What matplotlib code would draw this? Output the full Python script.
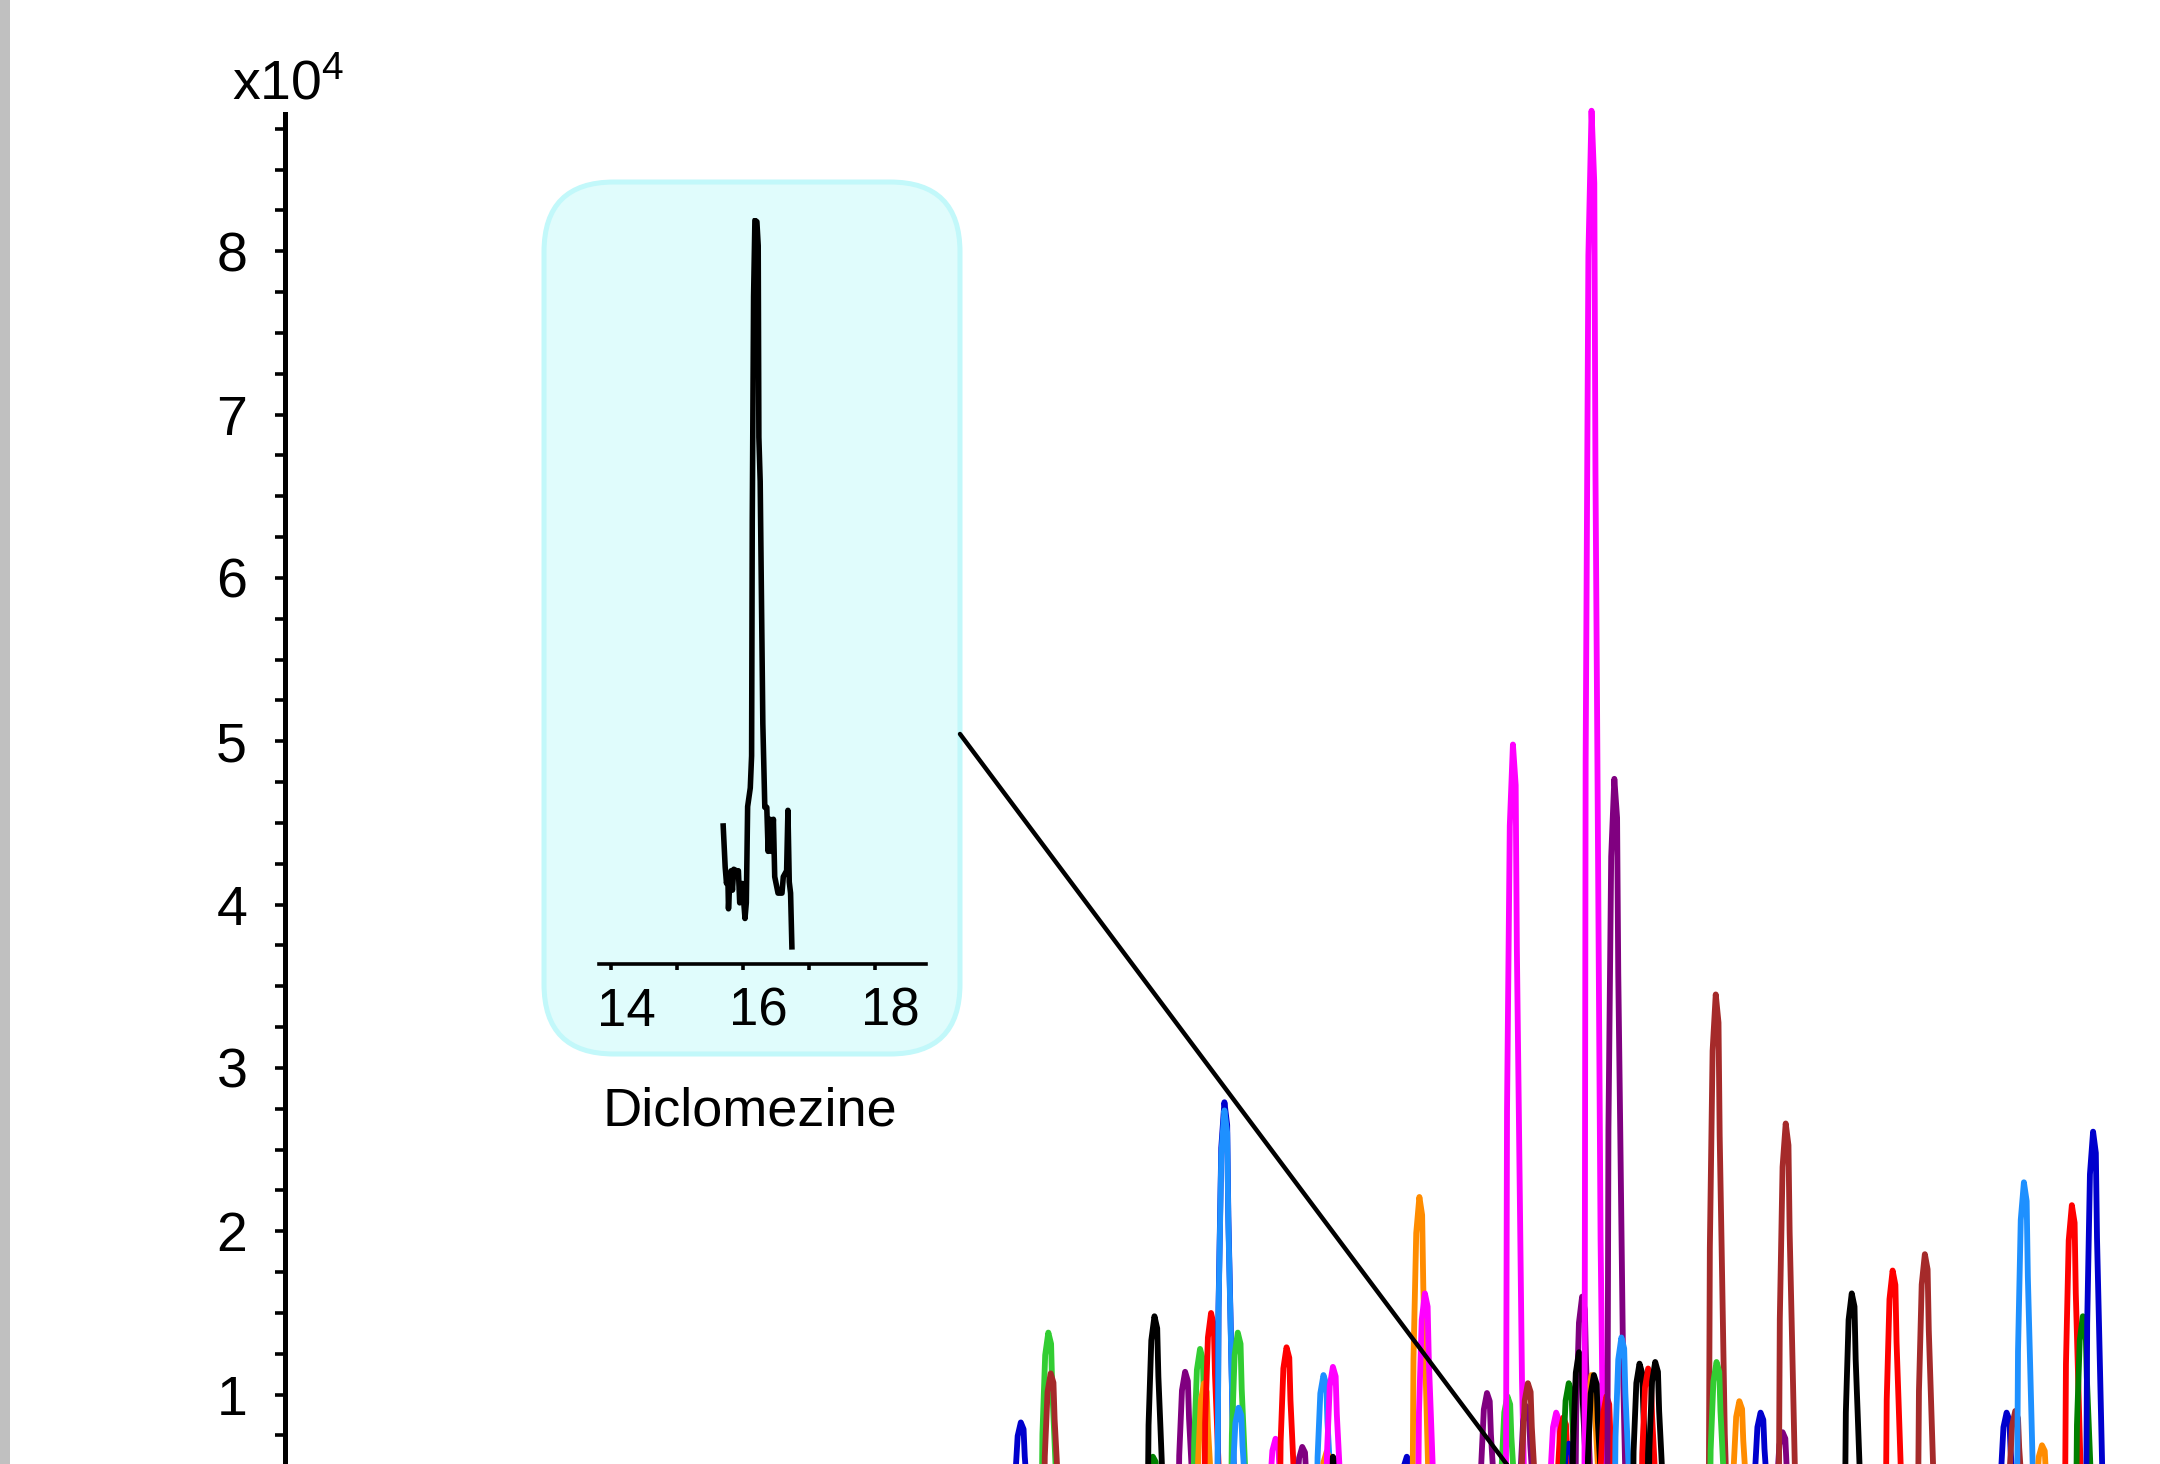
import matplotlib
matplotlib.use("Agg")
import matplotlib.pyplot as plt
from matplotlib.patches import FancyBboxPatch, Rectangle, ConnectionPatch
from matplotlib.ticker import MultipleLocator, FixedLocator, FuncFormatter
from matplotlib.transforms import ScaledTranslation

plt.rcParams['font.family'] = ['Liberation Sans', 'DejaVu Sans']
plt.rcParams['mathtext.fontset'] = 'custom'
plt.rcParams['mathtext.rm'] = 'Liberation Sans'
plt.rcParams['mathtext.it'] = 'Liberation Sans:italic'

# ---------------- data ----------------
# main chromatogram: peak apex retention times (min), heights (counts), colours
PEAK_RT = [9.36, 9.71, 9.74, 11.04, 11.06, 11.45, 11.64, 11.69, 11.78, 11.95,
           11.95, 12.12, 12.13, 12.60, 12.74, 12.94, 13.21, 13.25, 13.33, 13.33,
           14.27, 14.43, 14.50, 15.29, 15.55, 15.62, 15.79, 15.81, 16.17, 16.26,
           16.33, 16.33, 16.50, 16.46, 16.62, 16.62, 16.65, 16.81, 16.91, 17.00,
           17.23, 17.34, 17.43, 18.20, 18.21, 18.50, 18.77, 19.05, 19.09, 19.93,
           20.45, 20.86, 21.90, 22.01, 22.12, 22.35, 22.73, 22.87, 23.00]
PEAK_HEIGHT = [8300, 13800, 11300, 6200, 14800, 11400, 12800, 10700, 15000, 27900,
               27400, 13800, 9200, 7300, 12900, 6800, 11200, 6500, 6200, 11700,
               6200, 22100, 16200, 10100, 9900, 49800, 9300, 10700, 8900, 8600,
               7000, 10700, 16000, 12600, 11200, 88600, 11200, 9900, 47700, 13500,
               11900, 11600, 12000, 34500, 12000, 9600, 8900, 7700, 26600, 16200,
               17600, 18600, 8900, 9000, 23000, 6900, 21600, 14800, 26100]
PEAK_COLOR = ['mediumblue', 'limegreen', 'brown', 'green', 'black', 'purple', 'limegreen',
              'darkorange', 'red', 'mediumblue', 'dodgerblue', 'limegreen', 'dodgerblue',
              'magenta', 'red', 'purple', 'dodgerblue', 'darkorange', 'black', 'magenta',
              'mediumblue', 'darkorange', 'magenta', 'purple', 'limegreen', 'magenta',
              'purple', 'brown', 'magenta', 'red', 'mediumblue', 'green', 'purple', 'black',
              'darkorange', 'magenta', 'black', 'red', 'purple', 'dodgerblue', 'black', 'red',
              'black', 'brown', 'limegreen', 'darkorange', 'mediumblue', 'purple', 'brown',
              'black', 'red', 'brown', 'mediumblue', 'brown', 'dodgerblue', 'darkorange',
              'red', 'green', 'mediumblue']

# common peak profile (offset from apex in min, fraction of height)
PROFILE_DT = [-0.11, -0.09, -0.075, -0.04, 0.0, 0.035, 0.05, 0.075, 0.115, 0.15, 0.19]
PROFILE_FRAC = [0.0, 0.05, 0.55, 0.90, 1.0, 0.95, 0.75, 0.55, 0.22, 0.06, 0.0]

# Diclomezine peak in the main chromatogram
DIC_RT = 16.2
DIC_HEIGHT = 1500

# inset trace (Diclomezine, relative intensity)
DIC_TRACE_RT = [15.70, 15.73, 15.75, 15.77, 15.78, 15.80, 15.82, 15.84, 15.86, 15.90,
                15.93, 15.95, 15.99, 16.03, 16.05, 16.07, 16.11, 16.13, 16.14, 16.16,
                16.18, 16.21, 16.23, 16.24, 16.26, 16.30, 16.33, 16.36, 16.38, 16.41,
                16.43, 16.46, 16.48, 16.53, 16.59, 16.61, 16.66, 16.68, 16.70, 16.72,
                16.74]
DIC_TRACE_INT = [18.5, 13.0, 10.8, 12.0, 7.4, 11.0, 12.5, 9.9, 12.7, 12.5,
                 12.5, 8.2, 10.8, 6.1, 8.2, 21.1, 23.6, 27.9, 59.5, 89.5,
                 99.7, 99.5, 96.3, 70.6, 64.7, 32.2, 21.0, 21.0, 15.1, 19.4,
                 15.1, 19.4, 11.7, 9.5, 9.5, 11.7, 12.5, 20.6, 11.0, 9.5,
                 2.3]
INSET_MAJOR = [14, 16, 18]
INSET_MINOR = [15, 17]
INSET_TITLE = "Diclomezine"

Y_MAJOR = 10000
Y_MINOR = 2500

# ---------------- figure ----------------
W, H = 2160, 1464
fig = plt.figure(figsize=(W / 200, H / 200), dpi=200)
fig.patch.set_facecolor('white')
fig.patches.append(Rectangle((0, 0), 10 / W, 1, transform=fig.transFigure,
                             facecolor='#c0c0c0', edgecolor='none', zorder=0))

# main axes (cropped: bottom and right lie outside the picture)
ax = fig.add_axes([285 / W, (H - 1558) / H, 1926 / W, 1444 / H])
ax.set_facecolor('none')
ax.set_xlim(0, 24.5)
ax.set_ylim(0, 88400)

for rt, h, c in zip(PEAK_RT, PEAK_HEIGHT, PEAK_COLOR):
    ax.plot([rt + d for d in PROFILE_DT], [h * f for f in PROFILE_FRAC],
            color=c, lw=2.1, solid_joinstyle='round', solid_capstyle='round',
            clip_on=False)
ax.plot([DIC_RT + d for d in PROFILE_DT], [DIC_HEIGHT * f for f in PROFILE_FRAC],
        color='black', lw=2.1, clip_on=False)

for s in ('top', 'right', 'bottom'):
    ax.spines[s].set_visible(False)
ax.spines['left'].set_linewidth(1.8)
ax.set_xticks([])
ax.yaxis.set_major_locator(MultipleLocator(Y_MAJOR))
ax.yaxis.set_minor_locator(MultipleLocator(Y_MINOR))
ax.yaxis.set_major_formatter(FuncFormatter(lambda v, p: f"{int(round(v / Y_MAJOR))}" if v > 0 else ""))
ax.tick_params(axis='y', which='both', direction='out', length=3.6, width=1.3,
               labelsize=20, pad=10)
ax.annotate(r"x$10^{4}$", xy=(0, 1), xycoords='axes fraction', xytext=(1, 1),
            textcoords='offset points', ha='center', va='bottom', fontsize=20)

# inset box
bx0, by0, bx1, by1 = 544, 182, 960, 1054
box_ax = fig.add_axes([bx0 / W, (H - by1) / H, (bx1 - bx0) / W, (by1 - by0) / H])
box_ax.set_axis_off()
box = FancyBboxPatch((0, 0), 1, 1, boxstyle="round,pad=0,rounding_size=0.168",
                     mutation_aspect=(bx1 - bx0) / (by1 - by0),
                     transform=box_ax.transAxes, facecolor='#e0fcfc',
                     edgecolor='#c2f8fa', lw=1.8, clip_on=False)
box_ax.add_patch(box)

# inset axes
ax_in = fig.add_axes([599 / W, (H - 964) / H, 327 / W, 746 / H])
ax_in.set_facecolor('none')
ax_in.set_xlim(13.82, 18.77)
ax_in.set_ylim(0, 100)
ax_in.plot(DIC_TRACE_RT, DIC_TRACE_INT, color='black', lw=2.0)
for s in ('top', 'right', 'left'):
    ax_in.spines[s].set_visible(False)
ax_in.spines['bottom'].set_linewidth(1.3)
ax_in.set_yticks([])
ax_in.xaxis.set_major_locator(FixedLocator(INSET_MAJOR))
ax_in.xaxis.set_minor_locator(FixedLocator(INSET_MINOR))
ax_in.xaxis.set_major_formatter(FuncFormatter(lambda v, p: f"{int(v)}"))
ax_in.tick_params(axis='x', which='both', direction='out', length=2.2, width=1.3,
                  labelsize=19, pad=6)
for lab in ax_in.get_xticklabels():
    lab.set_transform(lab.get_transform() + ScaledTranslation(5.4 / 72, 0, fig.dpi_scale_trans))

fig.text(750 / W, (H - 1126) / H, INSET_TITLE, ha='center', va='baseline', fontsize=19.5)

# connector from the inset box to the Diclomezine peak
con = ConnectionPatch(xyA=(1.0, (by1 - 734) / (by1 - by0)), coordsA=box_ax.transAxes,
                      xyB=(DIC_RT, DIC_HEIGHT), coordsB=ax.transData,
                      color='black', lw=1.6, shrinkA=0, shrinkB=0)
con.set_clip_on(False)
fig.add_artist(con)

fig.savefig('out.png', dpi=200)
